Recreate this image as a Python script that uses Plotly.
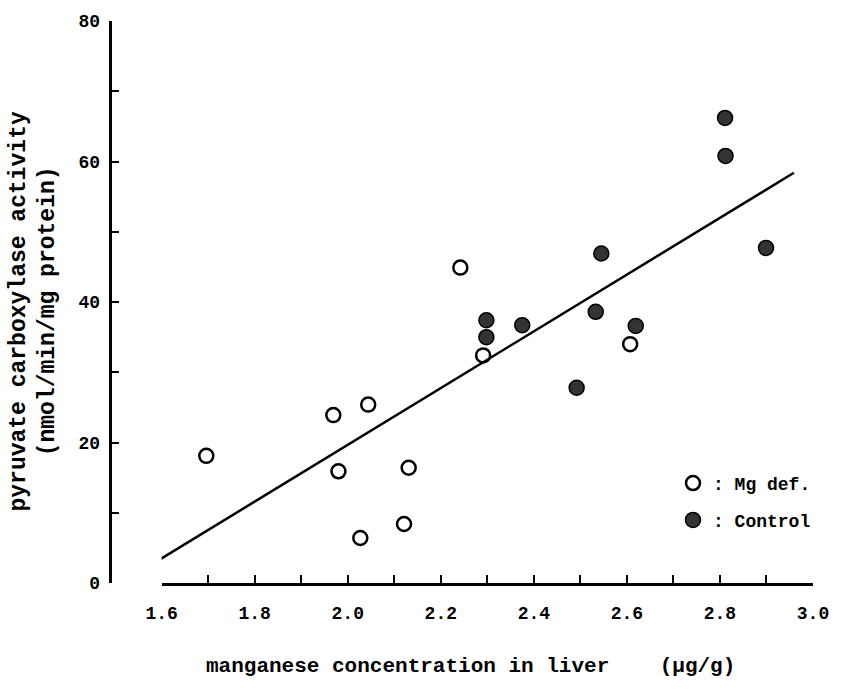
import plotly.graph_objects as go

# Data
mgdef_x = [1.696, 1.969, 1.980, 2.044, 2.027, 2.121, 2.131, 2.242, 2.291, 2.607]
mgdef_y = [18.1, 23.9, 15.9, 25.4, 6.4, 8.4, 16.4, 44.9, 32.4, 34.0]
control_x = [2.298, 2.298, 2.375, 2.492, 2.533, 2.545, 2.619, 2.811, 2.812, 2.899]
control_y = [37.4, 35.0, 36.7, 27.8, 38.6, 46.9, 36.6, 66.2, 60.8, 47.7]
fit_x = [1.585, 2.959]
fit_y = [2.9, 58.4]

x_tickvals = [1.6, 1.8, 2.0, 2.2, 2.4, 2.6, 2.8, 3.0]
x_ticktext = ["1.6", "1.8", "2.0", "2.2", "2.4", "2.6", "2.8", "3.0"]
y_tickvals = [0, 20, 40, 60, 80]
y_ticktext = ["0", "20", "40", "60", "80"]
y_tickmarks = [0, 10, 20, 30, 40, 50, 60, 70, 80]

FONT = "Liberation Mono"
W, H = 841, 689
ML, MR, MT, MB = 110, 23, 19, 106
plot_w = W - ML - MR
plot_h = H - MT - MB
d0 = 52 / plot_w
x_lo, x_hi = 1.6, 3.0

fig = go.Figure()
fig.add_trace(go.Scatter(
    x=fit_x, y=fit_y, mode="lines",
    line=dict(color="black", width=2.5), showlegend=False, hoverinfo="skip"))
fig.add_trace(go.Scatter(
    x=mgdef_x, y=mgdef_y, mode="markers", name=": Mg def.", legend="legend",
    marker=dict(symbol="circle-open", size=14, color="black", line=dict(width=2.5, color="black")),
    cliponaxis=False))
fig.add_trace(go.Scatter(
    x=control_x, y=control_y, mode="markers", name=": Control", legend="legend2",
    marker=dict(symbol="circle", size=15, color="#333333", line=dict(width=1.5, color="black")),
    cliponaxis=False))
# invisible carrier trace so the label-only y axis is drawn
fig.add_trace(go.Scatter(
    x=fit_x, y=fit_y, mode="lines", yaxis="y2", opacity=0,
    line=dict(color="rgba(0,0,0,0)", width=0), showlegend=False, hoverinfo="skip"))

tick_font = dict(family=FONT, size=18, color="black", weight="bold")

fig.update_layout(
    width=W, height=H,
    margin=dict(l=ML, r=MR, t=MT, b=MB, pad=0),
    paper_bgcolor="white", plot_bgcolor="rgba(0,0,0,0)",
    font=dict(family=FONT, color="black", size=17),
    xaxis=dict(
        domain=[d0, 1], range=[x_lo, x_hi], anchor="y",
        showline=True, linecolor="black", linewidth=2.5,
        showgrid=False, zeroline=False,
        tickmode="array", tickvals=x_tickvals, ticktext=x_ticktext,
        ticks="inside", ticklen=8, tickwidth=1.8, tickcolor="black",
        minor=dict(dtick=0.1, ticks="inside", ticklen=8, tickwidth=1.8, tickcolor="black", showgrid=False),
        tickfont=tick_font, ticklabelstandoff=12,
    ),
    # y axis line and tick marks
    yaxis=dict(
        domain=[0, 1], range=[0, 80], anchor="free", position=0,
        showline=True, linecolor="black", linewidth=2.5,
        showgrid=False, zeroline=False,
        tickmode="array", tickvals=y_tickmarks, ticktext=[""] * len(y_tickmarks),
        ticks="inside", ticklen=7, tickwidth=1.8, tickcolor="black",
        tickfont=tick_font,
    ),
    # y tick labels
    yaxis2=dict(
        overlaying="y", range=[0, 80], anchor="free", position=0, side="left",
        showline=False, showgrid=False, zeroline=False, ticks="",
        tickmode="array", tickvals=y_tickvals, ticktext=y_ticktext,
        tickfont=tick_font, ticklabelstandoff=10,
    ),
    legend=dict(x=(677 - ML) / plot_w, y=(H - MB - 483) / plot_h, xanchor="left", yanchor="middle",
                bgcolor="rgba(0,0,0,0)", itemwidth=30, itemclick=False,
                font=dict(family=FONT, size=18, color="black", weight="bold")),
    legend2=dict(x=(677 - ML) / plot_w, y=(H - MB - 520) / plot_h, xanchor="left", yanchor="middle",
                 bgcolor="rgba(0,0,0,0)", itemwidth=30, itemclick=False,
                 font=dict(family=FONT, size=18, color="black", weight="bold")),
)

fig.add_annotation(
    text="manganese concentration in liver    (μg/g)",
    xref="paper", yref="paper", x=(205 - ML) / plot_w, y=-(667 - (H - MB)) / plot_h,
    xanchor="left", yanchor="middle", showarrow=False,
    font=dict(family=FONT, size=21, color="black", weight="bold"))
fig.add_annotation(
    text="pyruvate carboxylase activity<br>(nmol/min/mg protein)",
    xref="paper", yref="paper", x=(33 - ML) / plot_w, y=(H - MB - 311) / plot_h,
    xanchor="center", yanchor="middle", textangle=-90, showarrow=False,
    font=dict(family=FONT, size=23, color="black", weight="bold"))

fig.write_html("out.html")
